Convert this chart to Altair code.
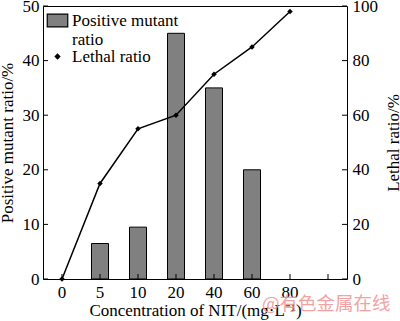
import altair as alt
import pandas as pd

categories = ["0", "5", "10", "20", "40", "60", "80", ""]
bar_cats = ["5", "10", "20", "40", "60"]
mutant_ratio = [6.5, 9.5, 45, 35, 20]
line_cats = ["0", "5", "10", "20", "40", "60", "80"]
lethal_ratio = [0, 35, 55, 60, 75, 85, 98]
left_ticks = [0, 10, 20, 30, 40, 50]
right_ticks = [0, 20, 40, 60, 80, 100]
watermark = ["@有色金属在线"]

W, H = 304, 273
FONT = "Liberation Serif"
FS = 17

bars_df = pd.DataFrame({"conc": bar_cats, "val": mutant_ratio, "s": "Positive mutant ratio"})
line_df = pd.DataFrame({"conc": line_cats, "val": lethal_ratio, "s": "Lethal ratio"})
xt_df = pd.DataFrame({"conc": categories})
lt_df = pd.DataFrame({"v": left_ticks})
rt_df = pd.DataFrame({"v": right_ticks})
wm_df = pd.DataFrame({"t": watermark})

xscale = alt.Scale(domain=categories, paddingInner=0, paddingOuter=0)
yl = alt.Scale(domain=[0, 50], nice=False)
yr = alt.Scale(domain=[0, 100], nice=False)

common = dict(labelFont=FONT, titleFont=FONT, labelFontSize=FS, titleFontSize=FS,
              labelColor="black", titleColor="black", titleFontWeight="normal",
              tickSize=0, domain=False, grid=False)

xaxis = alt.Axis(title="Concentration of NIT/(mg·L⁻¹)", labelAngle=0,
                 labelPadding=5, titlePadding=2, **common)
yaxisL = alt.Axis(title="Positive mutant ratio/%", values=left_ticks,
                  labelPadding=4, titlePadding=6, **common)
yaxisR = alt.Axis(title="Lethal ratio/%", values=right_ticks, orient="right",
                  labelPadding=5, titlePadding=25, titleAngle=270, **common)

X = alt.X("conc:N", scale=xscale, axis=xaxis, sort=categories)

bars = alt.Chart(bars_df).mark_bar(size=17, stroke="black", strokeWidth=1).encode(
    x=X,
    y=alt.Y("val:Q", scale=yl, axis=yaxisL),
    fill=alt.Fill("s:N", scale=alt.Scale(range=["#808080"]),
                  legend=alt.Legend(title=None, orient="none", legendX=6, legendY=6,
                                    symbolType="M-1.45,-0.9L1.45,-0.9L1.45,0.9L-1.45,0.9Z",
                                    symbolSize=200,
                                    symbolStrokeColor="black", symbolStrokeWidth=1.2,
                                    labelFont=FONT, labelFontSize=FS, labelColor="black",
                                    labelExpr="datum.label == 'Positive mutant ratio' ? ['Positive mutant', 'ratio'] : datum.label")),
)
lticks = alt.Chart(lt_df).mark_rule(color="black").encode(
    y=alt.Y("v:Q", scale=yl, axis=yaxisL), x=alt.value(0), x2=alt.value(5))
left = alt.layer(bars, lticks)

line = alt.Chart(line_df).mark_line(color="black", strokeWidth=1.5).encode(
    x=X, y=alt.Y("val:Q", scale=yr, axis=yaxisR))
points = alt.Chart(line_df).mark_point(filled=True, color="black", opacity=1).encode(
    x=X, y=alt.Y("val:Q", scale=yr, axis=yaxisR),
    shape=alt.Shape("s:N", scale=alt.Scale(range=["diamond"]),
                    legend=alt.Legend(title=None, orient="none", legendX=6, legendY=42,
                                      symbolFillColor="black", symbolStrokeColor="black",
                                      symbolSize=40, labelFont=FONT, labelFontSize=FS,
                                      labelColor="black")),
    size=alt.value(30),
)
rticks = alt.Chart(rt_df).mark_rule(color="black").encode(
    y=alt.Y("v:Q", scale=yr, axis=yaxisR), x=alt.value(W - 5), x2=alt.value(W))
right = alt.layer(line, points, rticks)

xticks = alt.Chart(xt_df).mark_rule(color="black").encode(
    x=X, y=alt.value(H), y2=alt.value(H - 5))

wm = alt.Chart(wm_df).mark_text(font="Noto Sans CJK SC", fontSize=18.5, color="#f09a9a",
                                 opacity=0.9, align="left", baseline="middle").encode(
    text="t:N", x=alt.value(219), y=alt.value(298))

chart = alt.layer(left, right, xticks, wm).resolve_scale(
    y="independent", fill="independent", shape="independent"
).properties(
    width=W, height=H,
    autosize=alt.AutoSizeParams(type="none"),
    padding={"left": 43, "top": 6, "right": 53, "bottom": 42},
    background="white",
).configure(font=FONT).configure_view(stroke="black", strokeWidth=1).configure_legend(
    labelFont=FONT, labelFontSize=FS, labelColor="black", padding=0, labelOffset=6,
)

chart.save("out.html", embed_options={"renderer": "svg", "actions": False})
